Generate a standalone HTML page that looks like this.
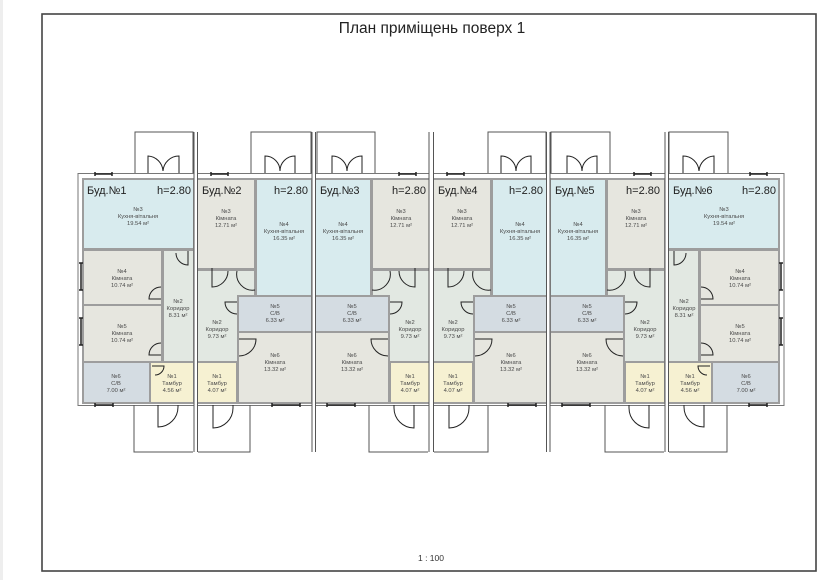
<!DOCTYPE html>
<html><head><meta charset="utf-8"><style>
html,body{margin:0;padding:0;background:#fff;width:828px;height:580px;overflow:hidden}
svg{display:block}
.t{font-family:"Liberation Sans","DejaVu Sans",sans-serif;font-size:5.8px;fill:#4a4a4a;text-anchor:middle}
.h{font-family:"Liberation Sans","DejaVu Sans",sans-serif;font-size:11px;fill:#222}
</style></head><body>
<svg width="828" height="580" viewBox="0 0 828 580" xmlns="http://www.w3.org/2000/svg">
<rect x="0" y="0" width="3" height="580" fill="#eee"/>
<rect x="42" y="14" width="774" height="557" fill="#fff" stroke="#444" stroke-width="1.6"/>
<text x="432" y="33" font-family="Liberation Sans Narrow,Liberation Sans,sans-serif" font-size="15.5" fill="#222" text-anchor="middle">План приміщень поверх 1</text>
<text x="431" y="561" font-family="Liberation Sans,sans-serif" font-size="8.5" fill="#333" text-anchor="middle">1 : 100</text>

<rect x="78" y="173.5" width="706" height="232" fill="#fff" stroke="#777" stroke-width="1"/>
<rect x="82" y="178" width="698" height="226" fill="#9d9d9d"/>

<defs>
<g id="b1">
 <rect x="84" y="180" width="109" height="68" fill="#d8ebee"/>
 <rect x="84" y="251" width="77" height="53" fill="#e6e6df"/>
 <rect x="164" y="251" width="29" height="110" fill="#e2e8e2"/>
 <rect x="84" y="306" width="77" height="55" fill="#e6e6df"/>
 <rect x="84" y="363" width="65" height="39" fill="#d4dce2"/>
 <rect x="151" y="363" width="42" height="39" fill="#f6f1d2"/>
 <g fill="none" stroke="#222" stroke-width="1">
  <path d="M188,251 V265 A12,12 0 0 1 176,253"/>
  <path d="M161,299 H149 A12,12 0 0 1 161,287"/>
  <path d="M161,355 H149 A12,12 0 0 1 161,343"/>
  <path d="M152,366 H164 A9,9 0 0 1 155,375"/>
  <path d="M158,405 V427 A20,20 0 0 0 178,407 V405"/>
  <path d="M148,173 V156 A16,16 0 0 1 163,171 M179,173 V156 A16,16 0 0 0 163,171"/>
  <path d="M79,263 H83 M79,290 H83 M81,263 V290 M79,318 H83 M79,345 H83 M81,318 V345" stroke-width="1.5"/>
  <path d="M95,405 H113 M95,403 V407 M113,403 V407" stroke-width="1.5"/>
  <path d="M95,174 H112 M95,172 V176 M112,172 V176" stroke-width="1.5"/>
 </g>
</g>
<g id="b2">
 <rect x="198" y="180" width="56" height="88" fill="#e6e6df"/>
 <rect x="257" y="180" width="54" height="115" fill="#d8ebee"/>
 <path d="M198,271 H254 V295 H237 V361 H198 Z" fill="#e2e8e2"/>
 <rect x="239" y="297" width="72" height="34" fill="#d4dce2"/>
 <rect x="239" y="333" width="72" height="69" fill="#e6e6df"/>
 <rect x="198" y="363" width="38" height="39" fill="#f6f1d2"/>
 <g fill="none" stroke="#222" stroke-width="1">
  <path d="M212,268 V287 A16,16 0 0 0 228,271"/>
  <path d="M237,271 A16,16 0 0 0 255,290"/>
  <path d="M237,302 H225 A12,12 0 0 0 237,314"/>
  <path d="M239,339 H256 A17,17 0 0 1 239,356"/>
  <path d="M213,405 V428 A20,20 0 0 0 233,408 V405"/>
  <path d="M265,173 V156 A15,15 0 0 1 280,171 M295,173 V156 A15,15 0 0 0 280,171"/>
  <path d="M211,174 H228 M211,172 V176 M228,172 V176 M219,174 h1" stroke-width="1.5"/>
  <path d="M272,405 H300 M272,403 V407 M300,403 V407 M286,405 h1" stroke-width="1.5"/>
 </g>
</g>
</defs>

<use href="#b1"/>
<use href="#b2"/>
<use href="#b2" transform="matrix(-1,0,0,1,627,0)"/>
<use href="#b2" transform="translate(236,0)"/>
<use href="#b2" transform="matrix(-1,0,0,1,862,0)"/>
<use href="#b1" transform="matrix(-1,0,0,1,862,0)"/>

<g fill="#fff" stroke="none">
 <rect x="194" y="132" width="3.5" height="320"/>
 <rect x="312" y="132" width="3.5" height="320"/>
 <rect x="429" y="132" width="4.5" height="320"/>
 <rect x="546.5" y="132" width="3.5" height="320"/>
 <rect x="665" y="132" width="3.5" height="320"/>
</g>
<g stroke="#555" stroke-width="1" fill="none">
 <path d="M194,132 V452 M197.5,132 V452 M312,132 V452 M315.5,132 V452 M429,132 V452 M433.5,132 V452 M546.5,132 V452 M550,132 V452 M665,132 V452 M668.5,132 V452"/>
 <path d="M135,173 V132 H193 V173"/>
 <path d="M251,173 V132 H311 V173"/>
 <path d="M317,173 V132 H375 V173"/>
 <path d="M488,173 V132 H546 V173"/>
 <path d="M551,173 V132 H610 V173"/>
 <path d="M669,173 V132 H728 V173"/>
 <path d="M134,405 V452 H193"/>
 <path d="M198,452 H250 V405"/>
 <path d="M369,405 V452 H428"/>
 <path d="M434,452 H488 V405"/>
 <path d="M605,405 V452 H664"/>
 <path d="M669,452 H727 V405"/>
</g>

<g class="h">
<text x="87" y="194">Буд.№1</text><text x="191" y="194" text-anchor="end">h=2.80</text>
<text x="202" y="194">Буд.№2</text><text x="308" y="194" text-anchor="end">h=2.80</text>
<text x="320" y="194">Буд.№3</text><text x="426" y="194" text-anchor="end">h=2.80</text>
<text x="438" y="194">Буд.№4</text><text x="543" y="194" text-anchor="end">h=2.80</text>
<text x="555" y="194">Буд.№5</text><text x="660" y="194" text-anchor="end">h=2.80</text>
<text x="673" y="194">Буд.№6</text><text x="776" y="194" text-anchor="end">h=2.80</text>
</g>

<g class="t">
<text x="138" y="211">№3<tspan x="138" dy="7">Кухня-вітальня</tspan><tspan x="138" dy="7">19.54 м²</tspan></text>
<text x="122" y="273">№4<tspan x="122" dy="7">Кімната</tspan><tspan x="122" dy="7">10.74 м²</tspan></text>
<text x="178" y="303">№2<tspan x="178" dy="7">Коридор</tspan><tspan x="178" dy="7">8.31 м²</tspan></text>
<text x="122" y="328">№5<tspan x="122" dy="7">Кімната</tspan><tspan x="122" dy="7">10.74 м²</tspan></text>
<text x="116" y="378">№6<tspan x="116" dy="7">С/В</tspan><tspan x="116" dy="7">7.00 м²</tspan></text>
<text x="172" y="378">№1<tspan x="172" dy="7">Тамбур</tspan><tspan x="172" dy="7">4.56 м²</tspan></text>
<text x="226" y="213">№3<tspan x="226" dy="7">Кімната</tspan><tspan x="226" dy="7">12.71 м²</tspan></text>
<text x="284" y="226">№4<tspan x="284" dy="7">Кухня-вітальня</tspan><tspan x="284" dy="7">16.35 м²</tspan></text>
<text x="217" y="324">№2<tspan x="217" dy="7">Коридор</tspan><tspan x="217" dy="7">9.73 м²</tspan></text>
<text x="275" y="308">№5<tspan x="275" dy="7">С/В</tspan><tspan x="275" dy="7">6.33 м²</tspan></text>
<text x="275" y="357">№6<tspan x="275" dy="7">Кімната</tspan><tspan x="275" dy="7">13.32 м²</tspan></text>
<text x="217" y="378">№1<tspan x="217" dy="7">Тамбур</tspan><tspan x="217" dy="7">4.07 м²</tspan></text>
<text x="401" y="213">№3<tspan x="401" dy="7">Кімната</tspan><tspan x="401" dy="7">12.71 м²</tspan></text>
<text x="343" y="226">№4<tspan x="343" dy="7">Кухня-вітальня</tspan><tspan x="343" dy="7">16.35 м²</tspan></text>
<text x="410" y="324">№2<tspan x="410" dy="7">Коридор</tspan><tspan x="410" dy="7">9.73 м²</tspan></text>
<text x="352" y="308">№5<tspan x="352" dy="7">С/В</tspan><tspan x="352" dy="7">6.33 м²</tspan></text>
<text x="352" y="357">№6<tspan x="352" dy="7">Кімната</tspan><tspan x="352" dy="7">13.32 м²</tspan></text>
<text x="410" y="378">№1<tspan x="410" dy="7">Тамбур</tspan><tspan x="410" dy="7">4.07 м²</tspan></text>
<text x="462" y="213">№3<tspan x="462" dy="7">Кімната</tspan><tspan x="462" dy="7">12.71 м²</tspan></text>
<text x="520" y="226">№4<tspan x="520" dy="7">Кухня-вітальня</tspan><tspan x="520" dy="7">16.35 м²</tspan></text>
<text x="453" y="324">№2<tspan x="453" dy="7">Коридор</tspan><tspan x="453" dy="7">9.73 м²</tspan></text>
<text x="511" y="308">№5<tspan x="511" dy="7">С/В</tspan><tspan x="511" dy="7">6.33 м²</tspan></text>
<text x="511" y="357">№6<tspan x="511" dy="7">Кімната</tspan><tspan x="511" dy="7">13.32 м²</tspan></text>
<text x="453" y="378">№1<tspan x="453" dy="7">Тамбур</tspan><tspan x="453" dy="7">4.07 м²</tspan></text>
<text x="636" y="213">№3<tspan x="636" dy="7">Кімната</tspan><tspan x="636" dy="7">12.71 м²</tspan></text>
<text x="578" y="226">№4<tspan x="578" dy="7">Кухня-вітальня</tspan><tspan x="578" dy="7">16.35 м²</tspan></text>
<text x="645" y="324">№2<tspan x="645" dy="7">Коридор</tspan><tspan x="645" dy="7">9.73 м²</tspan></text>
<text x="587" y="308">№5<tspan x="587" dy="7">С/В</tspan><tspan x="587" dy="7">6.33 м²</tspan></text>
<text x="587" y="357">№6<tspan x="587" dy="7">Кімната</tspan><tspan x="587" dy="7">13.32 м²</tspan></text>
<text x="645" y="378">№1<tspan x="645" dy="7">Тамбур</tspan><tspan x="645" dy="7">4.07 м²</tspan></text>
<text x="724" y="211">№3<tspan x="724" dy="7">Кухня-вітальня</tspan><tspan x="724" dy="7">19.54 м²</tspan></text>
<text x="740" y="273">№4<tspan x="740" dy="7">Кімната</tspan><tspan x="740" dy="7">10.74 м²</tspan></text>
<text x="684" y="303">№2<tspan x="684" dy="7">Коридор</tspan><tspan x="684" dy="7">8.31 м²</tspan></text>
<text x="740" y="328">№5<tspan x="740" dy="7">Кімната</tspan><tspan x="740" dy="7">10.74 м²</tspan></text>
<text x="746" y="378">№6<tspan x="746" dy="7">С/В</tspan><tspan x="746" dy="7">7.00 м²</tspan></text>
<text x="690" y="378">№1<tspan x="690" dy="7">Тамбур</tspan><tspan x="690" dy="7">4.56 м²</tspan></text>
</g>
</svg>
</body></html>
